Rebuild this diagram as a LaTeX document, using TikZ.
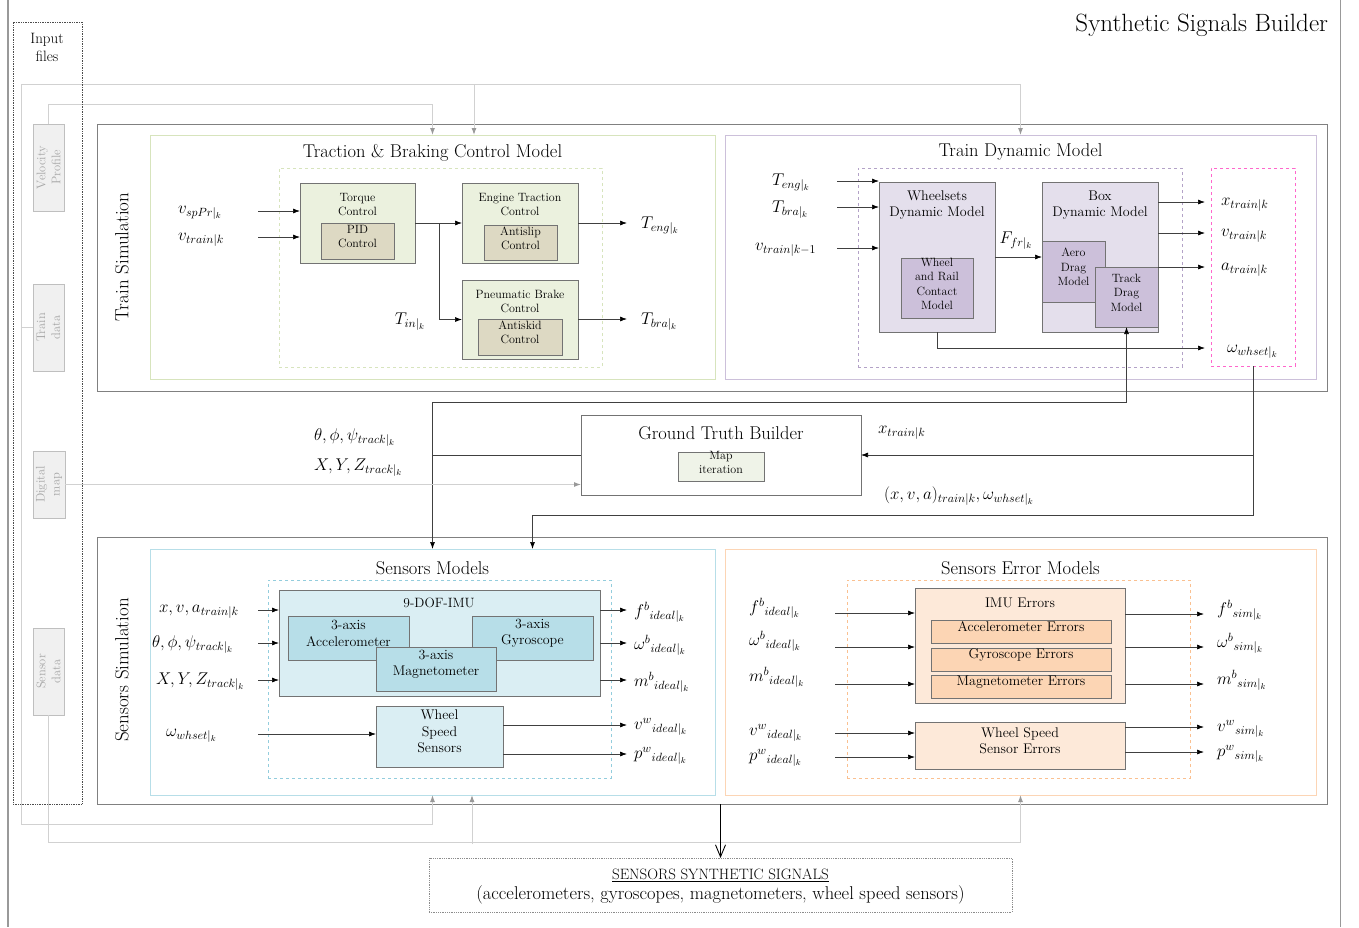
\RequirePackage{fix-cm}
\documentclass[tikz,border=0pt]{standalone}
\usetikzlibrary{arrows.meta,fit,calc}
\definecolor{tgreen}{HTML}{D7E4BD}
\definecolor{lav}{HTML}{CCC0DA}
\definecolor{lavD}{HTML}{B3A2C7}
\definecolor{mag}{HTML}{FF66CC}
\definecolor{lblue}{HTML}{B7DEE8}
\definecolor{lblueD}{HTML}{93CDDD}
\definecolor{peach}{HTML}{FCD5B5}
\definecolor{peachD}{HTML}{FAC090}
\definecolor{grnA}{HTML}{EBF1DE}
\definecolor{grnB}{HTML}{DDD9C3}
\definecolor{lavA}{HTML}{E4DFEC}
\definecolor{lavB}{HTML}{CCC0DA}
\definecolor{bluA}{HTML}{DAEEF3}
\definecolor{bluB}{HTML}{B7DEE8}
\definecolor{pchA}{HTML}{FDE9D9}
\definecolor{pchB}{HTML}{FCD5B4}
\definecolor{mapfill}{HTML}{EFF3E8}
\begin{document}
\begin{tikzpicture}[x=1pt,y=-1pt,
  every node/.style={inner sep=0pt,outer sep=0pt},
  area/.style={fit={#1},inner sep=0pt,align=center},
  frame/.style={draw=black!50,line width=1pt},
  blk/.style={draw=black!55,line width=0.8pt},
  src/.style={draw=black!25,fill=black!6,line width=0.8pt},
  srct/.style={font=\fontsize{12.5}{15}\selectfont,text=black!35,rotate=90,align=center},
  t11/.style={font=\fontsize{12}{14}\selectfont,align=center},
  t12/.style={font=\fontsize{14}{16}\selectfont,align=center},
  t13/.style={font=\fontsize{14}{16.5}\selectfont,align=center},
  tsm/.style={font=\fontsize{12}{14.5}\selectfont,align=center},
  ttl/.style={font=\fontsize{18.5}{22}\selectfont},
  side/.style={font=\fontsize{19}{22}\selectfont,rotate=90},
  mth/.style={font=\fontsize{17}{19}\selectfont},
  lbl/.style={mth,anchor=west},
  arr/.style={draw=black!75,line width=0.7pt,-{Latex[length=7pt,width=5pt,color=black]}},
  garr/.style={draw=black!18,line width=1pt,-{Latex[length=7pt,width=5pt,color=black!40]}}]
\useasboundingbox (0,0) rectangle (1359,927);

% page rules
\draw[black!40,line width=1.5pt] (8,0) -- (8,927);
\draw[black!40,line width=1pt] (1340,0) -- (1340,927);

\node[anchor=east,font=\fontsize{25}{28}\selectfont] (title) at (1328,25) {Synthetic Signals Builder};

% outer simulation frames
\node[frame,area={(97,124)(1327,391)}] (trsim) {};
\node[side] (trsimT) at (122,257) {Train Simulation};
\node[frame,area={(97,537)(1327,804)}] (sesim) {};
\node[side] (sesimT) at (122,670) {Sensors Simulation};

% input files
\node[src,area={(33,124)(64,211)}] (vel) {};
\node[srct] (velT) at (vel.center) {Velocity\\Profile};
\node[src,area={(33,284)(64,371)}] (trd) {};
\node[srct] (trdT) at (trd.center) {Train\\data};
\node[src,area={(33,451)(65,518)}] (dmap) {};
\node[srct] (dmapT) at (dmap.center) {Digital\\map};
\node[src,area={(33,628)(64,715)}] (sen) {};
\node[srct] (senT) at (sen.center) {Sensor\\data};

% ---------- Traction & Braking Control Model ----------
\node[area={(150,135)(715,379)},draw=tgreen,line width=1pt] (tbc) {};
\node[ttl] (tbcT) at (432.5,153) {Traction \& Braking Control Model};
\node[area={(279,168)(602,367)},draw=tgreen,dashed,line width=0.8pt] (tbcD) {};
\node[blk,fill=grnA,area={(300,183)(415,263)}] (tq) {};
\node[t11] (tqT) at (357.5,205) {Torque\\Control};
\node[blk,fill=grnB,area={(321,223)(394,259)},t11] (pid) {PID\\Control};
\node[blk,fill=grnA,area={(462,183)(578,263)}] (eng) {};
\node[t11] (engT) at (520,205) {Engine Traction\\Control};
\node[blk,fill=grnB,area={(484,225)(557,260)},t11] (asl) {Antislip\\Control};
\node[blk,fill=grnA,area={(462,280)(578,359)}] (pb) {};
\node[t11] (pbT) at (520,301) {Pneumatic Brake\\Control};
\node[blk,fill=grnB,area={(478,319)(562,355)},t11] (ask) {Antiskid\\Control};

\coordinate (tin1) at (258,211);
\coordinate (tin2) at (258,237);
\node[lbl] (tl1) at (178,213) {$v_{spPr|_k}$};
\node[lbl] (tl2) at (178,240) {$v_{train|k}$};
\draw[arr] (tin1) -- (tin1 -| tq.west);
\draw[arr] (tin2) -- (tin2 -| tq.west);
\draw[arr] (tq.east) -- (eng.west);
\draw[arr] (tq.east) -- ++(24,0) |- (pb.west);
\node[mth] (tinl) at (410,322) {$T_{in|_k}$};
\coordinate (tout1) at (627,223);
\coordinate (tout2) at (627,319);
\draw[arr] (tout1 -| eng.east) -- (tout1);
\draw[arr] (tout2 -| pb.east) -- (tout2);
\node[lbl] (tol1) at (641,226) {$T_{eng|_k}$};
\node[lbl] (tol2) at (641,322) {$T_{bra|_k}$};

% ---------- Train Dynamic Model ----------
\node[area={(725,135)(1316,379)},draw=lav,line width=1pt] (tdm) {};
\node[ttl] (tdmT) at (1020.5,152) {Train Dynamic Model};
\node[area={(858,168)(1182,367)},draw=lavD,dashed,line width=0.8pt] (tdmD) {};
\node[blk,fill=lavA,area={(879,182)(995,332)}] (wds) {};
\node[t13] (wdsT) at (937,205) {Wheelsets\\Dynamic Model};
\node[blk,fill=lavB,area={(901,258)(973,318)},tsm] (wrc) {Wheel\\and Rail\\Contact\\Model};
\node[blk,fill=lavA,area={(1042,182)(1158,332)}] (bdm) {};
\node[t13] (bdmT) at (1100,205) {Box\\Dynamic Model};
\node[blk,fill=lavB,area={(1042,241)(1105,302)},tsm] (aero) {Aero\\Drag\\Model};
\node[blk,fill=lavB,area={(1095,267)(1158,327)},tsm] (trk) {Track\\Drag\\Model};
\node[area={(1211,168)(1295,366)},draw=mag,dashed,line width=0.8pt] (mbox) {};

\coordinate (din1) at (837,181);
\coordinate (din2) at (837,207);
\coordinate (din3) at (837,248);
\node[lbl] (dl1) at (772,183) {$T_{eng|_k}$};
\node[lbl] (dl2) at (772,210) {$T_{bra|_k}$};
\node[lbl] (dl3) at (755,250) {$v_{train|k-1}$};
\draw[arr] (din1) -- (din1 -| wds.west);
\draw[arr] (din2) -- (din2 -| wds.west);
\draw[arr] (din3) -- (din3 -| wds.west);
\draw[arr] (wds.east) -- (bdm.west);
\node[mth] (ffr) at (1016,241) {$F_{fr|_k}$};
\coordinate (dout1) at (1205,202);
\coordinate (dout2) at (1205,233);
\coordinate (dout3) at (1205,267);
\coordinate (dout4) at (1205,348);
\draw[arr] (dout1 -| bdm.east) -- (dout1);
\draw[arr] (dout2 -| bdm.east) -- (dout2);
\draw[arr] (dout3 -| bdm.east) -- (dout3);
\draw[arr] (wds.south) |- (dout4);
\node[lbl] (dol1) at (1221,205) {$x_{train|k}$};
\node[lbl] (dol2) at (1221,236) {$v_{train|k}$};
\node[lbl] (dol3) at (1221,270) {$a_{train|k}$};
\node[lbl] (dol4) at (1227,352) {$\omega_{whset|_k}$};

% ---------- Ground Truth Builder ----------
\node[draw=black!55,line width=0.8pt,area={(581,415)(861,495)}] (gt) {};
\node[ttl] (gtT) at (721,433) {Ground Truth Builder};
\node[draw=black!55,line width=0.6pt,fill=mapfill,area={(678,452)(764,481)},t11] (map) {Map\\iteration};
\node[lbl] (gl1) at (314,438) {$\theta,\phi,\psi_{track|_k}$};
\node[lbl] (gl2) at (314,468) {$X,Y,Z_{track|_k}$};
\node[lbl] (gl3) at (878,433) {$x_{train|k}$};
\node[lbl] (gl4) at (884,496) {$(x,v,a)_{train|k},\omega_{whset|_k}$};

% ---------- Sensors Models ----------
\node[area={(150,549)(715,795)},draw=lblue,line width=1pt] (sm) {};
\node[ttl] (smT) at (432.5,568) {Sensors Models};
\node[area={(268,580)(611,778)},draw=lblueD,dashed,line width=0.8pt] (smD) {};
\node[blk,fill=bluA,area={(279,590)(600,696)}] (imu) {};
\node[font=\fontsize{13.5}{15}\selectfont] (imuT) at (439,603) {9-DOF-IMU};
\node[blk,fill=bluB,area={(288,616)(409,660)},t13] (acc) {3-axis\\Accelerometer};
\node[blk,fill=bluB,area={(472,616)(593,660)},t13] (gyr) {3-axis\\Gyroscope};
\node[blk,fill=bluB,area={(376,647)(496,691)},t13] (mag) {3-axis\\Magnetometer};
\node[blk,fill=bluA,area={(376,706)(503,767)},t13] (wss) {Wheel\\Speed\\Sensors};

\coordinate (sin1) at (258,610);
\coordinate (sin2) at (258,643);
\coordinate (sin3) at (258,680);
\coordinate (sin4) at (258,734);
\node[lbl] (sl1) at (159,612) {$x,v,a_{train|k}$};
\node[lbl] (sl2) at (152,645) {$\theta,\phi,\psi_{track|_k}$};
\node[lbl] (sl3) at (156,682) {$X,Y,Z_{track|_k}$};
\node[lbl] (sl4) at (166,736) {$\omega_{whset|_k}$};
\draw[arr] (sin1) -- (sin1 -| imu.west);
\draw[arr] (sin2) -- (sin2 -| imu.west);
\draw[arr] (sin3) -- (sin3 -| imu.west);
\draw[arr] (sin4) -- (sin4 -| wss.west);
\coordinate (sout1) at (627,610);
\coordinate (sout2) at (627,643);
\coordinate (sout3) at (627,680);
\coordinate (sout4) at (627,725);
\coordinate (sout5) at (627,754);
\draw[arr] (sout1 -| imu.east) -- (sout1);
\draw[arr] (sout2 -| imu.east) -- (sout2);
\draw[arr] (sout3 -| imu.east) -- (sout3);
\draw[arr] (sout4 -| wss.east) -- (sout4);
\draw[arr] (sout5 -| wss.east) -- (sout5);
\node[lbl] (sol1) at (634,612) {$f^{b}{}_{ideal|_k}$};
\node[lbl] (sol2) at (634,645) {$\omega^{b}{}_{ideal|_k}$};
\node[lbl] (sol3) at (634,682) {$m^{b}{}_{ideal|_k}$};
\node[lbl] (sol4) at (634,727) {$v^{w}{}_{ideal|_k}$};
\node[lbl] (sol5) at (634,756) {$p^{w}{}_{ideal|_k}$};

% ---------- Sensors Error Models ----------
\node[area={(725,549)(1316,795)},draw=peach,line width=1pt] (sem) {};
\node[ttl] (semT) at (1020.5,568) {Sensors Error Models};
\node[area={(847,580)(1190,778)},draw=peachD,dashed,line width=0.8pt] (semD) {};
\node[blk,fill=pchA,area={(915,588)(1125,703)}] (ime) {};
\node[t12] (imeT) at (1020,603) {IMU Errors};
\node[blk,fill=pchB,area={(931,620)(1111,643)},t12] (ae) {Accelerometer Errors};
\node[blk,fill=pchB,area={(931,648)(1111,671)},t12] (ge) {Gyroscope Errors};
\node[blk,fill=pchB,area={(931,675)(1111,698)},t12] (me) {Magnetometer Errors};
\node[blk,fill=pchA,area={(915,722)(1125,769)},t13] (wse) {Wheel Speed\\Sensor Errors};

\coordinate (ein1) at (835,613);
\coordinate (ein2) at (835,647);
\coordinate (ein3) at (835,684);
\coordinate (ein4) at (835,733);
\coordinate (ein5) at (835,757);
\node[lbl] (el1) at (749,608) {$f^{b}{}_{ideal|_k}$};
\node[lbl] (el2) at (749,641) {$\omega^{b}{}_{ideal|_k}$};
\node[lbl] (el3) at (749,677) {$m^{b}{}_{ideal|_k}$};
\node[lbl] (el4) at (749,733) {$v^{w}{}_{ideal|_k}$};
\node[lbl] (el5) at (749,758) {$p^{w}{}_{ideal|_k}$};
\draw[arr] (ein1) -- (ein1 -| ime.west);
\draw[arr] (ein2) -- (ein2 -| ime.west);
\draw[arr] (ein3) -- (ein3 -| ime.west);
\draw[arr] (ein4) -- (ein4 -| wse.west);
\draw[arr] (ein5) -- (ein5 -| wse.west);
\coordinate (eout1) at (1204,614);
\coordinate (eout2) at (1204,647);
\coordinate (eout3) at (1204,684);
\coordinate (eout4) at (1204,727);
\coordinate (eout5) at (1204,752);
\draw[arr] (eout1 -| ime.east) -- (eout1);
\draw[arr] (eout2 -| ime.east) -- (eout2);
\draw[arr] (eout3 -| ime.east) -- (eout3);
\draw[arr] (eout4 -| wse.east) -- (eout4);
\draw[arr] (eout5 -| wse.east) -- (eout5);
\node[lbl] (eol1) at (1217,610) {$f^{b}{}_{sim|_k}$};
\node[lbl] (eol2) at (1217,643) {$\omega^{b}{}_{sim|_k}$};
\node[lbl] (eol3) at (1217,680) {$m^{b}{}_{sim|_k}$};
\node[lbl] (eol4) at (1217,729) {$v^{w}{}_{sim|_k}$};
\node[lbl] (eol5) at (1217,754) {$p^{w}{}_{sim|_k}$};

% ---------- links around the ground truth builder ----------
\coordinate (j1) at (432.5,402);
\coordinate (j2) at (1253,515);
\draw[arr] (gt.west) -| (sm.north);
\draw[arr] (gt.west -| sm.north) -- (j1) -| (trk.south);
\draw[arr] (mbox.south) |- (gt.east);
\draw[arr] (mbox.south) -- (j2) -| ($(sm.north)+(100,0)$);

% ---------- input file links ----------
\coordinate (g1) at (21,84);
\coordinate (g2) at (21,824);
\coordinate (g3) at (48.5,842);
\coordinate (g4) at (474,84);
\coordinate (g5) at (472,844);
\draw[garr] (vel.north) |- ($(tbc.north)+(0,-31)$) -- (tbc.north);
\draw[garr] (trd.west) -| (g1) -| (tdm.north);
\draw[garr] (g4) -- (g4 |- tbc.north);
\draw[garr] (trd.west) -| (g2) -| (sm.south);
\draw[garr] (sen.south) -- (g3) -| (sem.south);
\draw[garr] (g5) -- (g5 |- sm.south);
\draw[garr] (dmap.east) -- (dmap.east -| gt.west);

\node[area={(13,22)(82,804)},draw=black!70,densely dotted,line width=0.7pt] (inputs) {};
\node[font=\fontsize{15}{18}\selectfont,align=center] (inputsT) at (47,47) {Input\\files};

% ---------- synthetic signals output ----------
\node[area={(429,858)(1012,912)},draw=black!45,densely dotted,line width=0.8pt] (sss) {};
\node[font=\fontsize{15}{17}\selectfont] (sssT1) at (720.5,875) {\underline{SENSORS SYNTHETIC SIGNALS}};
\node[font=\fontsize{18.5}{20}\selectfont] (sssT2) at (720.5,895) {(accelerometers, gyroscopes, magnetometers, wheel speed sensors)};
\draw[black,line width=0.9pt,-{Straight Barb[length=12pt,width=10pt]}] (sss.north |- sesim.south) -- (sss.north);
\end{tikzpicture}
\end{document}
